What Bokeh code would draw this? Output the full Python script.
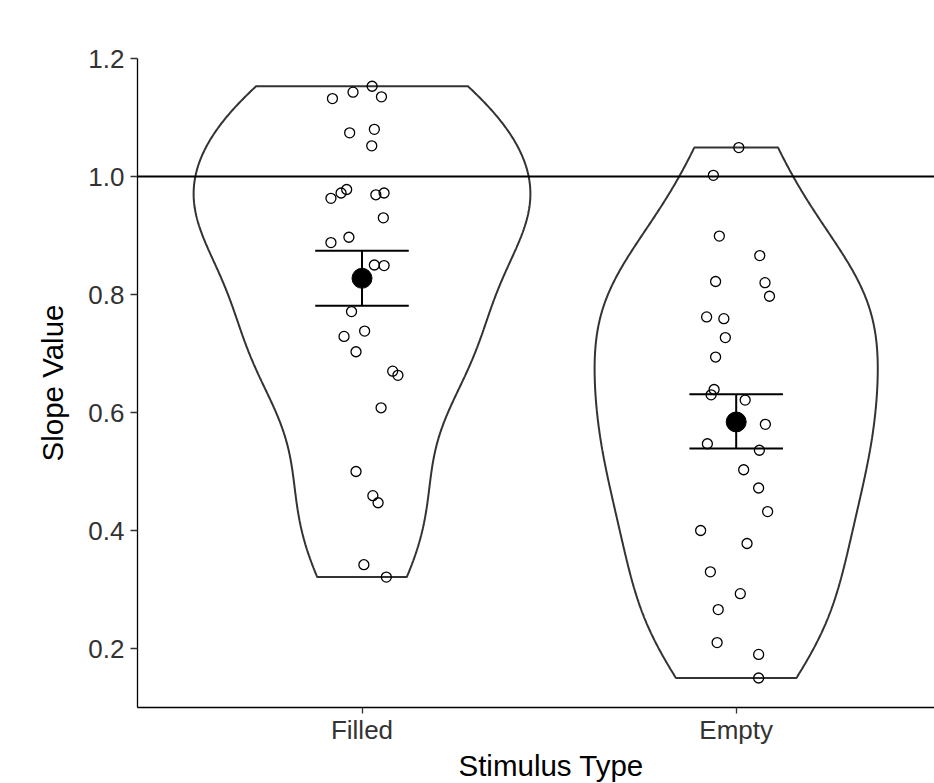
import numpy as np
from bokeh.plotting import figure
from bokeh.models import Range1d, FixedTicker, Span, Title
from bokeh.embed import file_html
from bokeh.resources import INLINE

# ---------------- data ----------------
categories = ["Filled", "Empty"]
category_pos = [1, 2]

filled_values = [1.153, 1.143, 1.132, 1.135, 1.074, 1.080, 1.052, 0.978, 0.972,
                 0.963, 0.969, 0.972, 0.930, 0.897, 0.888, 0.850, 0.849, 0.771,
                 0.738, 0.729, 0.703, 0.670, 0.663, 0.608, 0.500, 0.459, 0.447,
                 0.342, 0.321]
filled_jitter = [0.027, -0.024, -0.079, 0.052, -0.033, 0.033, 0.026, -0.041, -0.056,
                 -0.083, 0.037, 0.059, 0.057, -0.035, -0.083, 0.033, 0.059, -0.028,
                 0.007, -0.048, -0.016, 0.082, 0.096, 0.051, -0.016, 0.029, 0.043,
                 0.005, 0.065]

empty_values = [1.049, 1.002, 0.899, 0.866, 0.822, 0.820, 0.797, 0.762, 0.759,
                0.727, 0.694, 0.639, 0.630, 0.621, 0.580, 0.547, 0.536, 0.503,
                0.472, 0.432, 0.400, 0.378, 0.330, 0.293, 0.266, 0.210, 0.190,
                0.150]
empty_jitter = [0.007, -0.061, -0.045, 0.063, -0.055, 0.077, 0.089, -0.079, -0.033,
                -0.029, -0.055, -0.059, -0.067, 0.024, 0.078, -0.077, 0.062, 0.020,
                0.060, 0.084, -0.095, 0.029, -0.069, 0.011, -0.048, -0.051, 0.060,
                0.060]

means = [0.8275, 0.584]
err_low = [0.781, 0.539]
err_high = [0.874, 0.631]
reference_value = 1.0
y_ticks = [0.2, 0.4, 0.6, 0.8, 1.0, 1.2]
y_tick_labels = ["0.2", "0.4", "0.6", "0.8", "1.0", "1.2"]
x_title = "Stimulus Type"
y_title = "Slope Value"


# ---------------- violin densities (ggplot-like: gaussian, nrd0, trimmed) --------
def kde(vals, n_grid=512):
    v = np.asarray(vals, dtype=float)
    n = len(v)
    sd = v.std(ddof=1)
    q75, q25 = np.percentile(v, [75, 25])
    bw = 0.9 * min(sd, (q75 - q25) / 1.34) * n ** (-0.2)
    grid = np.linspace(v.min(), v.max(), n_grid)
    d = np.exp(-0.5 * ((grid[:, None] - v[None, :]) / bw) ** 2).sum(axis=1)
    d /= n * bw * np.sqrt(2 * np.pi)
    return grid, d


groups = [filled_values, empty_values]
jitters = [filled_jitter, empty_jitter]
dens = [kde(g) for g in groups]
dmax = max(d.max() for _, d in dens)
half_width = 0.45

p = figure(width=934, height=783, output_backend="svg", toolbar_location=None,
           x_range=Range1d(0.4, 2.53), y_range=Range1d(0.1, 1.2))
p.min_border_left = 137
p.min_border_right = 0
p.min_border_top = 58
p.min_border_bottom = 76
p.outline_line_color = None
p.xgrid.visible = False
p.ygrid.visible = False
p.background_fill_color = "white"
p.border_fill_color = "white"

for pos, (grid, d) in zip(category_pos, dens):
    hw = half_width * d / dmax
    xs = np.concatenate([pos - hw, (pos + hw)[::-1]])
    ys = np.concatenate([grid, grid[::-1]])
    p.patch(xs, ys, fill_color="white", line_color="#333333", line_width=2)

p.add_layout(Span(location=reference_value, dimension="width",
                  line_color="black", line_width=2, level="glyph"))

for pos, vals, jit in zip(category_pos, groups, jitters):
    xs = [pos + j for j in jit]
    p.scatter(xs, vals, size=10, fill_alpha=0, line_color="black", line_width=1.3)

cap = 0.125
p.segment(x0=category_pos, y0=err_low, x1=category_pos, y1=err_high,
          line_color="black", line_width=2)
p.segment(x0=[c - cap for c in category_pos], y0=err_low,
          x1=[c + cap for c in category_pos], y1=err_low,
          line_color="black", line_width=2)
p.segment(x0=[c - cap for c in category_pos], y0=err_high,
          x1=[c + cap for c in category_pos], y1=err_high,
          line_color="black", line_width=2)
p.scatter(category_pos, means, size=20, fill_color="black", line_color="black")

font = "Liberation Sans"
for ax in (p.xaxis, p.yaxis):
    ax.axis_line_color = "black"
    ax.axis_line_width = 1.3
    ax.major_tick_line_color = "#333333"
    ax.major_tick_line_width = 1.3
    ax.minor_tick_line_color = None
    ax.major_tick_in = 0
    ax.major_label_text_font = font
    ax.major_label_text_font_size = "26px"
    ax.major_label_text_color = "#333333"
    ax.axis_label_text_font = font
    ax.axis_label_text_font_size = "29.5px"
    ax.axis_label_text_font_style = "normal"
    ax.axis_label_text_color = "black"

p.xaxis.ticker = FixedTicker(ticks=category_pos)
p.xaxis.major_label_overrides = {c: t for c, t in zip(category_pos, categories)}
p.xaxis.major_tick_out = 6
p.xaxis.major_label_standoff = 1

# x title centred on the full (cropped) ggplot panel, which extends past the window
p.add_layout(Title(text=x_title, align="left", offset=321, standoff=0,
                   vertical_align="middle",
                   text_font=font, text_font_size="29.5px",
                   text_font_style="normal", text_color="black"), "below")

p.yaxis.ticker = FixedTicker(ticks=y_ticks)
p.yaxis.major_label_overrides = {t: l for t, l in zip(y_ticks, y_tick_labels)}
p.yaxis.major_tick_out = 7
p.yaxis.major_label_standoff = 6
p.yaxis.axis_label = y_title
p.yaxis.axis_label_standoff = 16

open("out.html", "w").write(file_html(p, INLINE))
